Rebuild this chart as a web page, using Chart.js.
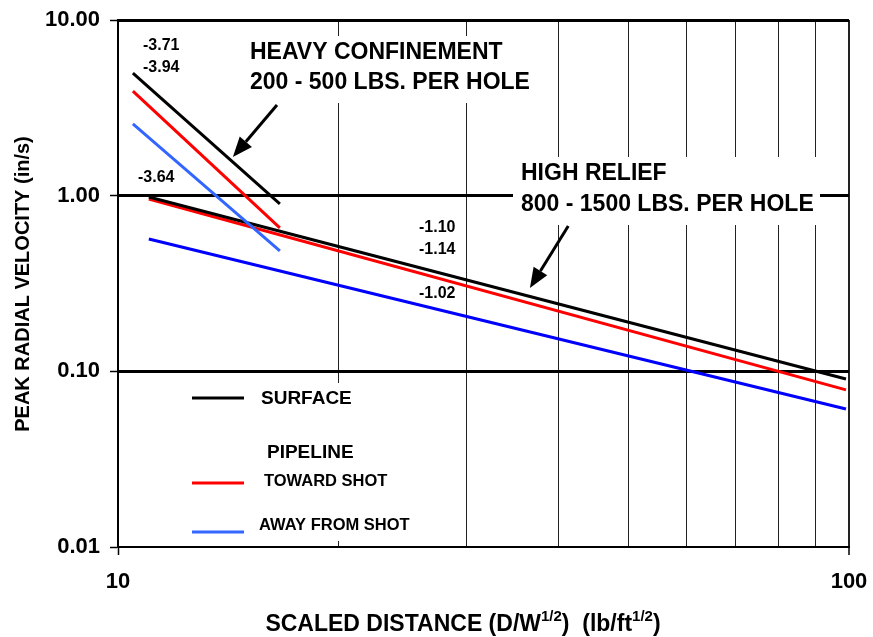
<!DOCTYPE html>
<html>
<head>
<meta charset="utf-8">
<script src="https://cdn.jsdelivr.net/npm/chart.js@4.4.1/dist/chart.umd.min.js"></script>
<style>
  html, body { margin: 0; padding: 0; background: #fff; }
  #wrap { width: 873px; height: 637px; }
</style>
</head>
<body>
<div id="wrap"><canvas id="pvChart" width="873" height="637"></canvas></div>
<script>
// scaled distance at the two ends of each fitted line
const heavyDist = [10.48, 16.65];
const reliefDist = [11.02, 99.06];

// peak radial velocity (in/s) at those ends
const heavySurface = [4.99, 0.897];
const heavyToward = [3.94, 0.655];
const heavyAway = [2.56, 0.485];
const reliefSurface = [0.983, 0.0905];
const reliefToward = [0.958, 0.0784];
const reliefAway = [0.567, 0.0611];

const xTicks = [10, 20, 30, 40, 50, 60, 70, 80, 90, 100];
const yTicks = [0.01, 0.1, 1, 10];
const yTickText = {0.01: '0.01', 0.1: '0.10', 1: '1.00', 10: '10.00'};

const slopeText = ['-3.71', '-3.94', '-3.64', '-1.10', '-1.14', '-1.02'];
const heavyTitle = ['HEAVY CONFINEMENT', '200 - 500 LBS. PER HOLE'];
const reliefTitle = ['HIGH RELIEF', '800 - 1500 LBS. PER HOLE'];

const FONT = '"Liberation Sans", Arial, sans-serif';
const BLACK = '#000000', RED = '#ff0000', LBLUE = '#3366ff', BLUE = '#0000ff';

function pts(xs, ys) {
  return xs.map((x, i) => ({x: x, y: ys[i]}));
}
function line(data, color) {
  return {data: data, borderColor: color, borderWidth: 3, pointRadius: 0, tension: 0, fill: false};
}

function arrow(ctx, x1, y1, x2, y2) {
  const a = Math.atan2(y2 - y1, x2 - x1);
  const len = 20, half = 8;
  const bx = x2 - len * Math.cos(a), by = y2 - len * Math.sin(a);
  ctx.beginPath();
  ctx.moveTo(x1, y1);
  ctx.lineTo(bx, by);
  ctx.lineWidth = 3;
  ctx.strokeStyle = BLACK;
  ctx.stroke();
  ctx.beginPath();
  ctx.moveTo(x2, y2);
  ctx.lineTo(bx + half * Math.sin(a), by - half * Math.cos(a));
  ctx.lineTo(bx - half * Math.sin(a), by + half * Math.cos(a));
  ctx.closePath();
  ctx.fillStyle = BLACK;
  ctx.fill();
}

const overlay = {
  id: 'overlay',
  beforeDatasetsDraw(chart) {
    const ctx = chart.ctx;
    ctx.save();
    ctx.fillStyle = '#fff';
    ctx.fillRect(243, 36, 294, 67);   // heavy confinement text
    ctx.fillRect(513, 157, 307, 68);  // high relief text
    ctx.fillRect(180, 383, 250, 158); // legend
    ctx.restore();
  },
  afterDatasetsDraw(chart) {
    const ctx = chart.ctx;
    const xs = chart.scales.x, ys = chart.scales.y;
    ctx.save();
    ctx.fillStyle = BLACK;
    ctx.textBaseline = 'middle';
    ctx.textAlign = 'left';

    ctx.font = 'bold 16px ' + FONT;
    ctx.fillText(slopeText[0], 143, 46);
    ctx.fillText(slopeText[1], 143, 68);
    ctx.fillText(slopeText[2], 138, 178);
    ctx.fillText(slopeText[3], 419, 228);
    ctx.fillText(slopeText[4], 419, 250);
    ctx.fillText(slopeText[5], 419, 294);

    ctx.font = 'bold 23px ' + FONT;
    ctx.fillText(heavyTitle[0], 250, 53);
    ctx.fillText(heavyTitle[1], 250, 83);
    ctx.fillText(reliefTitle[0], 521, 174);
    ctx.fillText(reliefTitle[1], 521, 205);

    arrow(ctx, xs.getPixelForValue(16.5), ys.getPixelForValue(3.28),
               xs.getPixelForValue(14.36), ys.getPixelForValue(1.66));
    arrow(ctx, xs.getPixelForValue(41.3), ys.getPixelForValue(0.672),
               xs.getPixelForValue(36.6), ys.getPixelForValue(0.298));

    // legend
    const sw = (y, c) => {
      ctx.beginPath();
      ctx.moveTo(192, y);
      ctx.lineTo(244, y);
      ctx.lineWidth = 3;
      ctx.strokeStyle = c;
      ctx.stroke();
    };
    sw(398, BLACK);
    sw(483, RED);
    sw(532, LBLUE);
    ctx.fillStyle = BLACK;
    ctx.font = 'bold 19px ' + FONT;
    ctx.fillText('SURFACE', 261, 399);
    ctx.fillText('PIPELINE', 267, 453);
    ctx.font = 'bold 16.5px ' + FONT;
    ctx.fillText('TOWARD SHOT', 264, 481);
    ctx.fillText('AWAY FROM SHOT', 259, 525);
    ctx.restore();
  },
  afterDraw(chart) {
    const ctx = chart.ctx;
    ctx.save();
    ctx.fillStyle = BLACK;
    ctx.textBaseline = 'alphabetic';

    // y title
    ctx.save();
    ctx.translate(29, 284);
    ctx.rotate(-Math.PI / 2);
    ctx.textAlign = 'center';
    ctx.font = 'bold 20px ' + FONT;
    ctx.fillText('PEAK RADIAL VELOCITY (in/s)', 0, 0);
    ctx.restore();

    // x title with superscripts
    const parts = [
      ['SCALED DISTANCE (D/W', false], ['1/2', true], [')  (lb/ft', false], ['1/2', true], [')', false]
    ];
    const big = 'bold 23px ' + FONT, small = 'bold 15px ' + FONT;
    let total = 0;
    parts.forEach(p => { ctx.font = p[1] ? small : big; total += ctx.measureText(p[0]).width; });
    let x = 463 - total / 2;
    const base = 631;
    ctx.textAlign = 'left';
    parts.forEach(p => {
      ctx.font = p[1] ? small : big;
      ctx.fillText(p[0], x, p[1] ? base - 10 : base);
      x += ctx.measureText(p[0]).width;
    });
    ctx.restore();
  }
};

new Chart(document.getElementById('pvChart'), {
  type: 'line',
  data: {
    datasets: [
      line(pts(heavyDist, heavySurface), BLACK),
      line(pts(heavyDist, heavyToward), RED),
      line(pts(heavyDist, heavyAway), LBLUE),
      line(pts(reliefDist, reliefSurface), BLACK),
      line(pts(reliefDist, reliefToward), RED),
      line(pts(reliefDist, reliefAway), BLUE)
    ]
  },
  options: {
    responsive: false,
    animation: false,
    layout: { padding: { left: 0, right: 24, top: 20, bottom: 0 } },
    plugins: { legend: { display: false }, tooltip: { enabled: false } },
    scales: {
      x: {
        type: 'logarithmic',
        min: 10,
        max: 100,
        afterBuildTicks(scale) { scale.ticks = xTicks.map(v => ({value: v})); },
        afterFit(scale) {
          scale.height = 90;
          scale.paddingLeft = 0;
          scale.paddingRight = 0;
        },
        ticks: {
          autoSkip: false,
          maxRotation: 0,
          padding: 14,
          color: BLACK,
          font: { family: FONT, size: 22, weight: 'bold' },
          callback: (v) => (v === 10 || v === 100) ? String(v) : ''
        },
        grid: {
          color: '#222',
          lineWidth: (c) => (c.tick && c.tick.value === 100) ? 2 : 1,
          tickLength: 8,
          tickWidth: 1.5,
          tickColor: (c) => (c.tick && (c.tick.value === 10 || c.tick.value === 100)) ? BLACK : 'rgba(0,0,0,0)'
        },
        border: { display: true, color: BLACK, width: 2 }
      },
      y: {
        type: 'logarithmic',
        min: 0.01,
        max: 10,
        afterBuildTicks(scale) { scale.ticks = yTicks.map(v => ({value: v})); },
        afterFit(scale) {
          scale.width = 118;
          scale.paddingTop = 0;
          scale.paddingBottom = 0;
        },
        ticks: {
          autoSkip: false,
          padding: 10,
          color: BLACK,
          font: { family: FONT, size: 22, weight: 'bold' },
          callback: (v) => yTickText[v] || ''
        },
        grid: {
          color: BLACK,
          lineWidth: (c) => (c.tick && c.tick.value >= 0.1) ? 3 : 1,
          tickLength: 8,
          tickWidth: 1.5,
          tickColor: BLACK
        },
        border: { display: true, color: BLACK, width: 2 }
      }
    }
  },
  plugins: [overlay]
});
</script>
</body>
</html>
